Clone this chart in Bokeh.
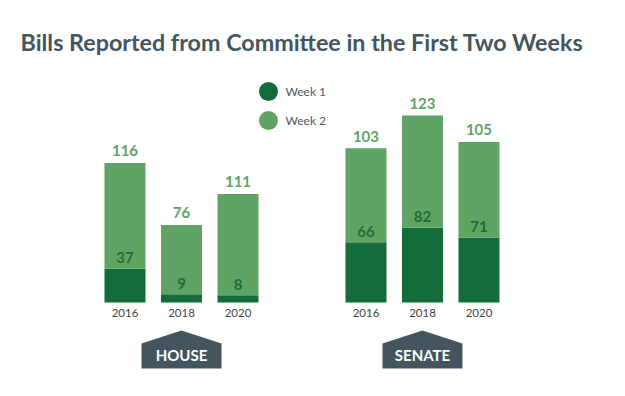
from bokeh.plotting import figure
from bokeh.models import Range1d, Label, ColumnDataSource
from bokeh.core.properties import value
from bokeh.embed import file_html
from bokeh.resources import INLINE

# ---- data ----
chambers = ["HOUSE", "SENATE"]
years = ["2016", "2018", "2020"]
house_week1 = [37, 9, 8]
house_week2 = [116, 76, 111]
senate_week1 = [66, 82, 71]
senate_week2 = [103, 123, 105]
series_names = ["Week 1", "Week 2"]
title_text = "Bills Reported from Committee in the First Two Weeks"

# ---- layout / style ----
W, H = 625, 396
PX_X = 56.5          # pixels per x unit (one bar slot)
PX_Y = 0.912         # pixels per bill
GROUP_GAP = 1.265    # extra slots between chambers
BASE_PX = 94         # baseline height above bottom of frame
HOUSE_MID_PX = 181   # frame x of the middle House bar
BAR_W = 0.726
TXT_SHIFT = -5       # compensation for svg baseline

DARK = "#136b39"
LIGHT = "#5fa463"
DARK_TXT = "#1d6c3d"
SLATE = "#44555d"
FONT = "Lato"

week1_all = house_week1 + senate_week1
week2_all = house_week2 + senate_week2
xs, yrs = [], []
for g, ch in enumerate(chambers):
    for i, yr in enumerate(years):
        xs.append(g * (len(years) + GROUP_GAP) + i)
        yrs.append(yr)

src = ColumnDataSource(dict(
    x=xs, year=yrs, w1=week1_all, w2=week2_all,
    total=[a + b for a, b in zip(week1_all, week2_all)],
    w1_txt=[str(v) for v in week1_all], w2_txt=[str(v) for v in week2_all],
))

x0 = 1 - HOUSE_MID_PX / PX_X
y0 = -BASE_PX / PX_Y
p = figure(width=W, height=H, output_backend="svg", toolbar_location=None,
           x_range=Range1d(x0, x0 + W / PX_X), y_range=Range1d(y0, y0 + H / PX_Y),
           x_axis_location=None, y_axis_location=None, min_border=0,
           outline_line_color=None, background_fill_color="white")
p.grid.visible = False

p.vbar_stack(["w1", "w2"], x="x", width=BAR_W, color=[DARK, LIGHT],
             line_color=None, source=src)

# value labels
p.text(x="x", y="w1", text="w1_txt", source=src, text_align="center",
       text_baseline="alphabetic", y_offset=-6 + TXT_SHIFT, text_font=value(FONT),
       text_font_style="bold", text_font_size="15px", text_color=DARK_TXT)
p.text(x="x", y="total", text="w2_txt", source=src, text_align="center",
       text_baseline="alphabetic", y_offset=-7 + TXT_SHIFT, text_font=value(FONT),
       text_font_style="bold", text_font_size="15px", text_color=LIGHT)
# year labels
p.text(x="x", y=0, text="year", source=src, text_align="center",
       text_baseline="alphabetic", y_offset=15 + TXT_SHIFT, text_font=value(FONT),
       text_font_size="11.5px", text_color="#444444")

# chamber badges (house shapes)
centers = [g * (len(years) + GROUP_GAP) + 1 for g in range(len(chambers))]
hw = 40 / PX_X
peak, eave, bottom = -28 / PX_Y, -41 / PX_Y, -66 / PX_Y
bx = [[c - hw, c - hw, c, c + hw, c + hw] for c in centers]
by = [[bottom, eave, peak, eave, bottom] for _ in centers]
p.patches(bx, by, fill_color=SLATE, line_color=None)
p.text(x=centers, y=[0] * len(centers), text=chambers, text_align="center",
       text_baseline="alphabetic", y_offset=57 + TXT_SHIFT, text_font=value(FONT),
       text_font_style="bold", text_font_size="15px", text_color="white")

# legend: round markers + labels
leg_px_x = 268
leg_px_y = [91, 120]
lx = [x0 + leg_px_x / PX_X] * 2
ly = [y0 + (H - v) / PX_Y for v in leg_px_y]
p.scatter(x=lx, y=ly, marker="circle", size=19, fill_color=[DARK, LIGHT], line_color=None)
for name, v in zip(series_names, leg_px_y):
    p.add_layout(Label(x=leg_px_x + 17, y=H - v, x_units="screen", y_units="screen",
                       text=name, text_font=FONT, text_font_size="12px",
                       text_color="#4d5b61", text_baseline="middle"))

p.add_layout(Label(x=20, y=H - 41, x_units="screen", y_units="screen",
                   text=title_text, text_font=FONT, text_font_style="bold",
                   text_font_size="23.3px", text_color=SLATE,
                   text_baseline="alphabetic"))

open("out.html", "w").write(file_html(p, INLINE))
